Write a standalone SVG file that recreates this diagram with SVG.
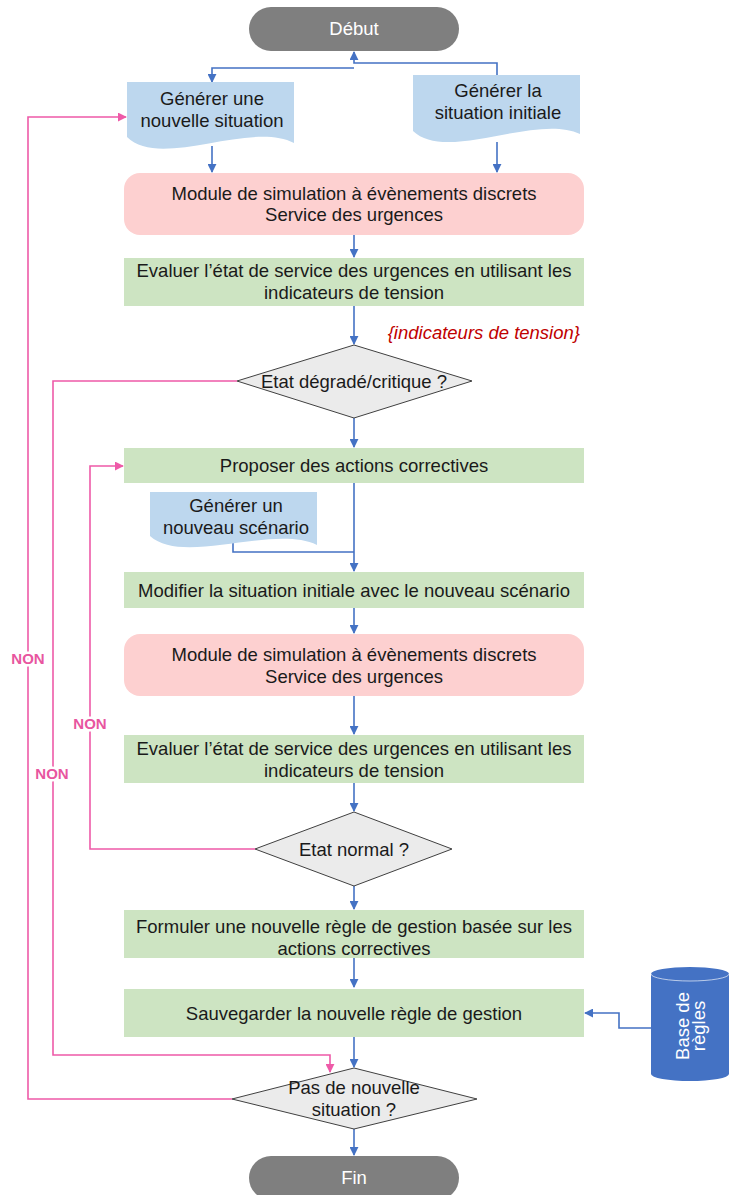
<svg xmlns="http://www.w3.org/2000/svg" width="729" height="1195" viewBox="0 0 729 1195">
<defs>
<marker id="ab" viewBox="0 0 10 10" refX="9" refY="5" markerWidth="9" markerHeight="9" markerUnits="userSpaceOnUse" orient="auto"><path d="M0,0 L10,5 L0,10 Z" fill="#4472C4"/></marker>
<marker id="ap" viewBox="0 0 10 10" refX="9" refY="5" markerWidth="9" markerHeight="9" markerUnits="userSpaceOnUse" orient="auto"><path d="M0,0 L10,5 L0,10 Z" fill="#EE5AA8"/></marker>
</defs>
<style>
text{font-family:"Liberation Sans",Arial,sans-serif;font-size:18.5px;fill:#1a1a1a;text-anchor:middle}
.term{fill:#7f7f7f}
.term-t{fill:#ffffff}
.doc{fill:#BDD7EE}
.sim{fill:#FDD0D0}
.proc{fill:#CDE4C2}
.dec{fill:#EBEBEB;stroke:#404040;stroke-width:1}
.b{fill:none;stroke:#4472C4;stroke-width:1.6}
.p{fill:none;stroke:#EE5AA8;stroke-width:1.6}
.non{font-weight:bold;font-size:15px;fill:#E8559F;stroke:#ffffff;stroke-width:5;paint-order:stroke}
.red{font-style:italic;fill:#C00000;text-anchor:end}
</style>
<rect width="729" height="1195" fill="#ffffff"/>
<g id="connectors">
<path class="b" d="M497,75 V63 H354 V52" marker-end="url(#ab)"/>
<path class="b" d="M354,68 H212 V82" marker-end="url(#ab)"/>
<path class="b" d="M212,146 V172" marker-end="url(#ab)"/>
<path class="b" d="M497,142 V172" marker-end="url(#ab)"/>
<path class="b" d="M354,235 V257" marker-end="url(#ab)"/>
<path class="b" d="M354,306 V344" marker-end="url(#ab)"/>
<path class="b" d="M354,418 V447" marker-end="url(#ab)"/>
<path class="b" d="M354,483 V571" marker-end="url(#ab)"/>
<path class="b" d="M233,542 V552 H354"/>
<path class="b" d="M354,608 V633" marker-end="url(#ab)"/>
<path class="b" d="M354,696 V734" marker-end="url(#ab)"/>
<path class="b" d="M354,783 V811" marker-end="url(#ab)"/>
<path class="b" d="M354,886 V909" marker-end="url(#ab)"/>
<path class="b" d="M354,958 V987" marker-end="url(#ab)"/>
<path class="b" d="M354,1037 V1067" marker-end="url(#ab)"/>
<path class="b" d="M354,1129 V1155" marker-end="url(#ab)"/>
<path class="b" d="M651,1028 H619 V1013 H585" marker-end="url(#ab)"/>
<path class="p" d="M237,381 H53 V1055 H330 V1072" marker-end="url(#ap)"/>
<path class="p" d="M255,849 H90 V466 H123" marker-end="url(#ap)"/>
<path class="p" d="M232,1099 H28 V117 H126" marker-end="url(#ap)"/>
<text class="non" x="28" y="664">NON</text>
<text class="non" x="90" y="729">NON</text>
<text class="non" x="52" y="779">NON</text>
<text class="red" x="580" y="339">{indicateurs de tension}</text>
</g>
<g id="debut">
<rect class="term" x="249" y="7" width="210" height="44" rx="22"/>
<text class="term-t" x="354" y="35">Début</text>
</g>
<g id="doc-nouvelle-situation">
<path class="doc" d="M127,82 H294 V143 C250,120 160,170 127,137 Z"/>
<text x="212" y="105">Générer une</text>
<text x="212" y="127">nouvelle situation</text>
</g>
<g id="doc-situation-initiale">
<path class="doc" d="M413,75 H580 V134 C536,113 446,163 413,131 Z"/>
<text x="498" y="97">Générer la</text>
<text x="498" y="119">situation initiale</text>
</g>
<g id="sim1">
<rect class="sim" x="124" y="173" width="460" height="62" rx="16"/>
<text x="354" y="200">Module de simulation à évènements discrets</text>
<text x="354" y="221">Service des urgences</text>
</g>
<g id="eval1">
<rect class="proc" x="124" y="258" width="460" height="48"/>
<text x="354" y="277">Evaluer l’état de service des urgences en utilisant les</text>
<text x="354" y="299">indicateurs de tension</text>
</g>
<g id="dec-degrade">
<path class="dec" d="M354,345 L472,381 L354,418 L237,381 Z"/>
<text x="354" y="388">Etat dégradé/critique ?</text>
</g>
<g id="proposer">
<rect class="proc" x="124" y="448" width="460" height="35"/>
<text x="354" y="472">Proposer des actions correctives</text>
</g>
<g id="doc-scenario">
<path class="doc" d="M150,492 H317 V545 C273,524 183,566 150,536 Z"/>
<text x="236" y="512">Générer un</text>
<text x="236" y="534">nouveau scénario</text>
</g>
<g id="modifier">
<rect class="proc" x="124" y="572" width="460" height="36"/>
<text x="354" y="597">Modifier la situation initiale avec le nouveau scénario</text>
</g>
<g id="sim2">
<rect class="sim" x="124" y="634" width="460" height="62" rx="16"/>
<text x="354" y="661">Module de simulation à évènements discrets</text>
<text x="354" y="683">Service des urgences</text>
</g>
<g id="eval2">
<rect class="proc" x="124" y="735" width="460" height="48"/>
<text x="354" y="755">Evaluer l’état de service des urgences en utilisant les</text>
<text x="354" y="777">indicateurs de tension</text>
</g>
<g id="dec-normal">
<path class="dec" d="M354,812 L452,849 L354,886 L255,849 Z"/>
<text x="354" y="856">Etat normal ?</text>
</g>
<g id="formuler">
<rect class="proc" x="124" y="910" width="460" height="48"/>
<text x="354" y="933">Formuler une nouvelle règle de gestion basée sur les</text>
<text x="354" y="955">actions correctives</text>
</g>
<g id="sauvegarder">
<rect class="proc" x="124" y="989" width="460" height="48"/>
<text x="354" y="1020">Sauvegarder la nouvelle règle de gestion</text>
</g>
<g id="base-regles">
<path d="M651,974 A39,7 0 0 1 729,974 V1074 A39,7 0 0 1 651,1074 Z" fill="#4472C4"/>
<path d="M651,974 A39,7 0 0 0 729,974" fill="none" stroke="#ffffff" stroke-width="0.8" opacity="0.8"/>
<g transform="translate(690,1026) rotate(-90)">
<text class="term-t" x="0" y="-1">Base de</text>
<text class="term-t" x="0" y="15">règles</text>
</g>
</g>
<g id="dec-pas">
<path class="dec" d="M354,1068 L477,1099 L354,1129 L232,1099 Z"/>
<text x="354" y="1094">Pas de nouvelle</text>
<text x="354" y="1116">situation ?</text>
</g>
<g id="fin">
<rect class="term" x="249" y="1156" width="210" height="44" rx="22"/>
<text class="term-t" x="354" y="1184">Fin</text>
</g>
</svg>
